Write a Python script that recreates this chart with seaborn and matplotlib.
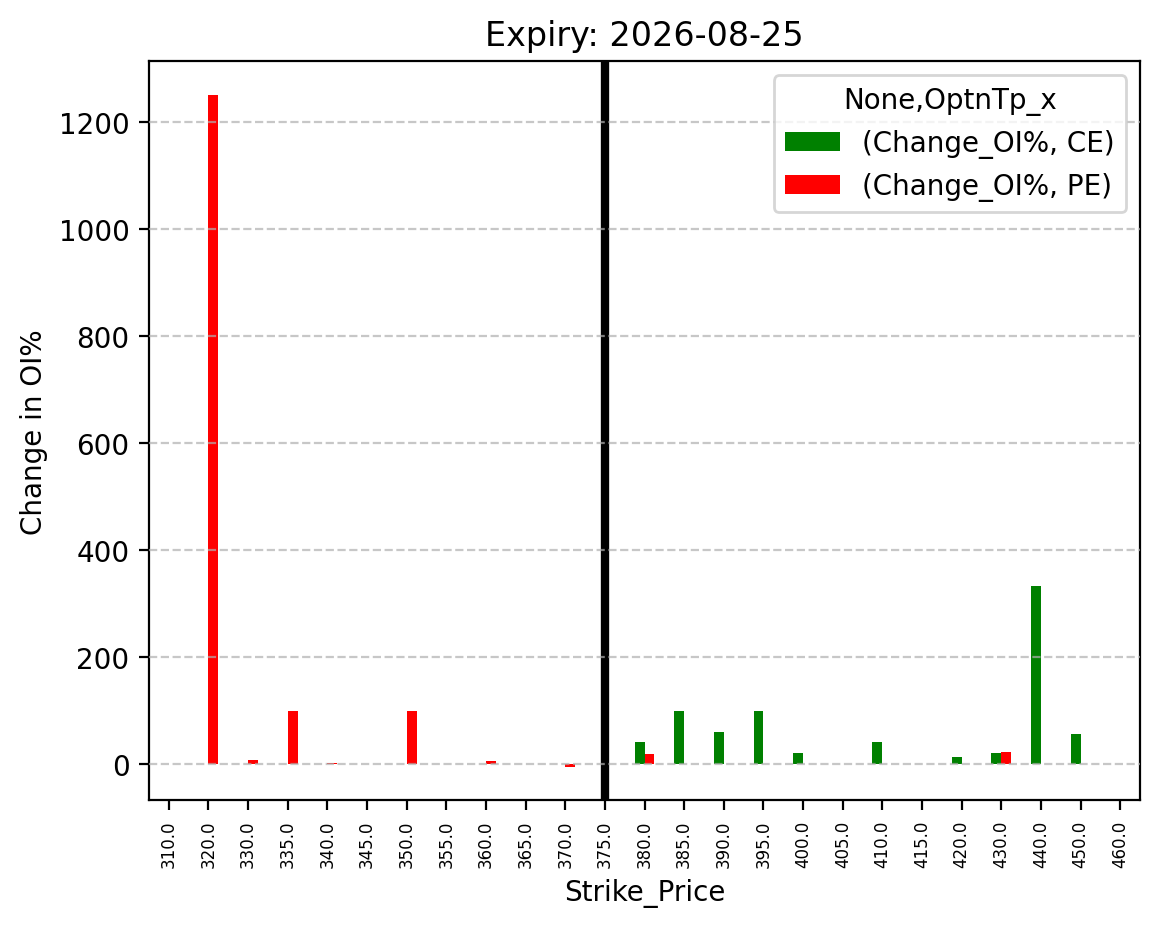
import numpy as np
import pandas as pd
import matplotlib
matplotlib.use("Agg")
import matplotlib.pyplot as plt
import seaborn as sns

strikes = [310.0, 320.0, 330.0, 335.0, 340.0, 345.0, 350.0, 355.0, 360.0, 365.0, 370.0, 375.0,
           380.0, 385.0, 390.0, 395.0, 400.0, 405.0, 410.0, 415.0, 420.0, 430.0, 440.0, 450.0, 460.0]
nan = np.nan
ce_values = [nan, nan, nan, nan, nan, nan, nan, nan, nan, nan, nan, nan,
             42, 100, 60, 100, 21, nan, 42, nan, 14, 21, 333, 57, nan]
pe_values = [nan, 1250, 8, 100, 2.5, nan, 100, nan, 5, nan, -5, nan,
             18, nan, nan, nan, 1, nan, nan, nan, nan, 23, nan, nan, nan]
spot_strike = "375.0"

labels = [f"{s:.1f}" for s in strikes]
df = pd.DataFrame({
    "Strike_Price": labels * 2,
    "value": ce_values + pe_values,
    "type": ["(Change_OI%, CE)"] * len(labels) + ["(Change_OI%, PE)"] * len(labels),
})

fig = plt.figure(figsize=(5.805, 4.64), dpi=200)
ax = fig.add_axes([0.1283, 0.1365, 0.8537, 0.7965])
sns.barplot(data=df, x="Strike_Price", y="value", hue="type", order=labels,
            hue_order=["(Change_OI%, CE)", "(Change_OI%, PE)"],
            palette=["green", "red"], width=0.5, saturation=1, ax=ax, errorbar=None)
ax.axvline(labels.index(spot_strike), color="black", linewidth=3)
ax.set_xlim(-0.5, len(labels) - 0.5)
ax.yaxis.grid(True, linestyle="--", alpha=0.7)
ax.set_axisbelow(False)
ax.tick_params(axis="x", labelrotation=90, labelsize=6)
ax.set_title("Expiry: 2026-08-25")
ax.set_xlabel("Strike_Price")
ax.set_ylabel("Change in OI%")
ax.legend(title="None,OptnTp_x", loc="upper right")
fig.savefig("out.png", dpi=200)
